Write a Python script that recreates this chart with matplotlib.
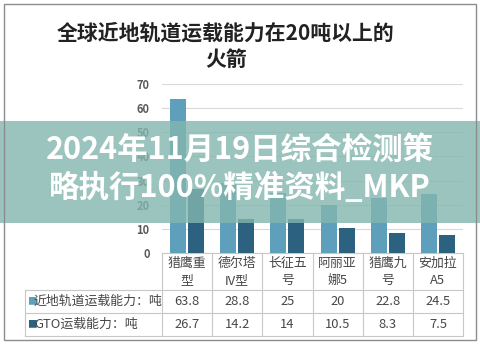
import matplotlib
matplotlib.use("Agg")
import matplotlib.pyplot as plt
from matplotlib.patches import Rectangle
from matplotlib.transforms import blended_transform_factory
import numpy as np

plt.rcParams['font.family'] = ['Noto Sans CJK SC', 'DejaVu Sans']

categories = ["猎鹰重\n型", "德尔塔\nIV型", "长征五\n号", "阿丽亚\n娜5", "猎鹰九\n号", "安加拉\nA5"]
leo_values = [63.8, 28.8, 25, 20, 22.8, 24.5]
gto_values = [26.7, 14.2, 14, 10.5, 8.3, 7.5]
series_names = ["近地轨道运载能力：吨", "GTO运载能力：吨"]
y_ticks = [0, 10, 20, 30, 40, 50, 60, 70]
title = "全球近地轨道运载能力在20吨以上的\n火箭"
banner = "2024年11月19日综合检测策\n略执行100%精准资料_MKP"

c1 = '#5e9fbb'
c2 = '#2d6180'
W, H = 480, 344
fig = plt.figure(figsize=(W / 100, H / 100), dpi=100)

# axes placement in pixels
L, R, T, B = 162, 463, 84, 253
ax = fig.add_axes([L / W, 1 - B / H, (R - L) / W, (B - T) / H])

n = len(categories)
x = np.arange(n)
bw = 0.32
ax.bar(x - 0.18, leo_values, bw, color=c1, zorder=3)
ax.bar(x + 0.18, gto_values, bw, color=c2, zorder=3)
ax.set_xlim(-0.5, n - 0.5)
ax.set_ylim(0, 70)
ax.set_yticks(y_ticks)
ax.set_yticklabels([str(t) for t in y_ticks], fontsize=8, color='#595959', fontweight='bold')
ax.tick_params(axis='y', length=0, pad=9)
ax.set_xticks([])
for s in ['top', 'right', 'left']:
    ax.spines[s].set_visible(False)
ax.spines['bottom'].set_color('#c8c8c8')
ax.spines['bottom'].set_linewidth(0.8)
ax.grid(axis='y', color='#d9d9d9', lw=0.8, zorder=0)
ax.set_axisbelow(True)

def axy(py):
    return (B - py) / (B - T)

def pxx(px):
    return -0.5 + (px - L) / ((R - L) / n)

# table (data coords in x, axes coords in y)
tr = blended_transform_factory(ax.transData, ax.transAxes)
lc = '#c8c8c8'
xl = pxx(25)
xr = n - 0.5
for py in [290, 313, 336]:
    ax.plot([xl, xr], [axy(py)] * 2, color=lc, lw=0.8, transform=tr, clip_on=False)
ax.plot([xl, xl], [axy(290), axy(336)], color=lc, lw=0.8, transform=tr, clip_on=False)
for k in range(n + 1):
    xx = k - 0.5
    ax.plot([xx, xx], [axy(253), axy(336)], color=lc, lw=0.8, transform=tr, clip_on=False)

tc = '#474747'
fs = 9.3
for i, cat in enumerate(categories):
    ax.text(i, axy(272), cat, ha='center', va='center', fontsize=fs, color=tc,
            linespacing=1.35, transform=tr, clip_on=False)
for r, vals in enumerate([leo_values, gto_values]):
    yy = axy(301.5 + 23 * r)
    for i, v in enumerate(vals):
        ax.text(i, yy, f"{v:g}", ha='center', va='center', fontsize=fs, color=tc,
                transform=tr, clip_on=False)

for i, (name, col) in enumerate(zip(series_names, [c1, c2])):
    yy = axy(301.5 + 23 * i)
    ax.text(pxx(27), yy, "■", color=col, fontsize=7, ha='left', va='center',
            transform=tr, clip_on=False)
    ax.text(pxx(34), yy, name, color=tc, fontsize=fs, ha='left', va='center',
            transform=tr, clip_on=False)

# title
fig.text(226 / W, 1 - 46 / H, title, ha='center', va='center', fontsize=15,
         color='#222222', fontweight='bold', linespacing=1.3)

# outer border
fig.patches.append(Rectangle((4 / W, 4 / H), 472 / W, 336 / H, transform=fig.transFigure,
                             fill=False, ec='#8c8c8c', lw=1, zorder=6))

# banner overlay
fig.patches.append(Rectangle((0, 1 - 223 / H), 1, 102 / H, transform=fig.transFigure,
                             fc='#83b6ae', alpha=0.8, ec='none', zorder=5))
fig.text(240 / W, 1 - 169 / H, banner, ha='center', va='center', fontsize=22,
         color='white', fontweight='bold', linespacing=1.22, zorder=7)

fig.savefig("out.png", dpi=100)
